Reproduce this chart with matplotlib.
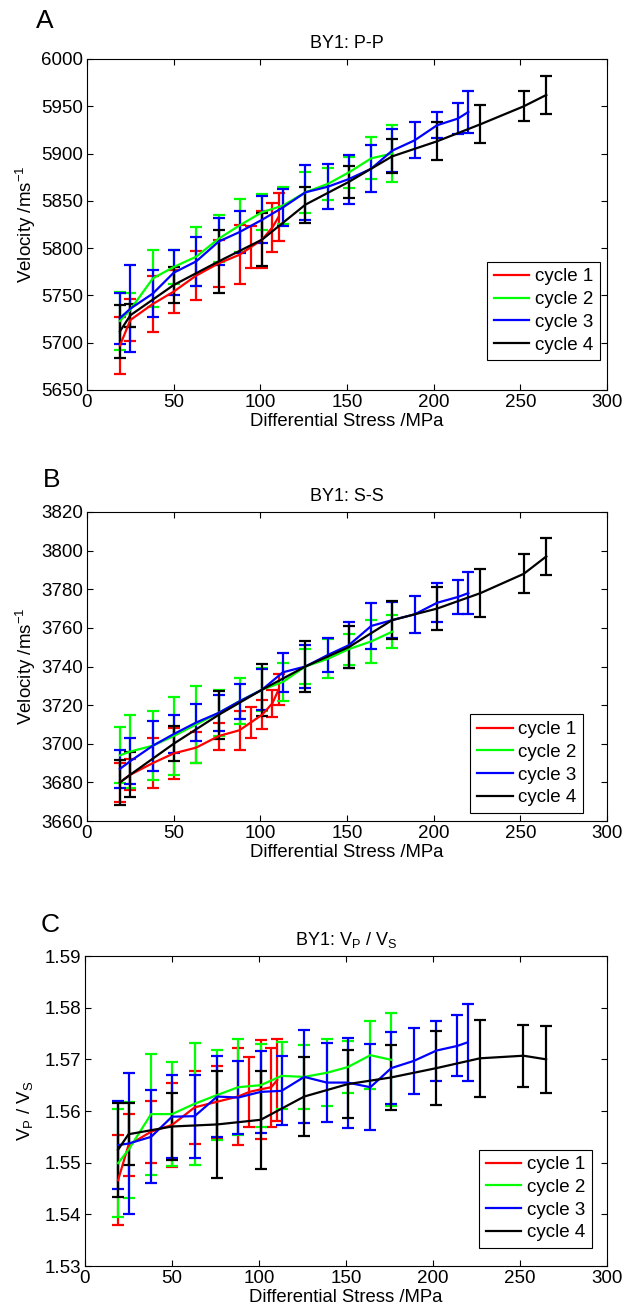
import matplotlib
matplotlib.use("Agg")
import matplotlib.pyplot as plt

plt.rcParams["font.family"] = ["Liberation Sans", "DejaVu Sans"]
plt.rcParams["mathtext.default"] = "regular"
plt.rcParams["font.size"] = 13

# stress steps for each loading cycle (MPa)
stress_c1 = [19, 25, 38, 50, 63, 76, 88, 94.5, 101, 107, 110.5]
stress_c2 = [19, 25, 38, 50, 63, 76, 88, 101, 113, 126, 139, 151, 164, 176]
stress_c3 = [19, 25, 38, 50, 63, 76, 88, 101, 113, 126, 139, 151, 164, 176,
             189, 202, 214, 220]
stress_c4 = [19, 25, 50, 76, 101, 126, 151, 176, 202, 227, 252, 265]

# A: P-wave velocity
vp_c1 = [5697, 5724, 5741, 5754, 5771, 5784, 5793, 5801, 5809, 5822, 5833]
vp_err_c1 = [30, 22, 30, 23, 26, 25, 31, 22, 30, 26, 25]
vp_c2 = [5723, 5735, 5768, 5780, 5791, 5810, 5824, 5838, 5845, 5859, 5868,
         5880, 5895, 5900]
vp_err_c2 = [31, 18, 30, 18, 31, 25, 28, 19, 20, 22, 17, 16, 22, 30]
vp_c3 = [5726, 5736, 5752, 5774, 5786, 5807, 5817, 5830, 5843, 5859, 5865,
         5873, 5884, 5903, 5914, 5930, 5937, 5944]
vp_err_c3 = [27, 46, 25, 24, 26, 25, 22, 25, 20, 29, 24, 26, 25, 23, 19, 14,
             16, 22]
vp_c4 = [5712, 5729, 5761, 5786, 5809, 5846, 5870, 5897, 5913, 5931, 5950, 5962]
vp_err_c4 = [28, 12, 19, 33, 28, 19, 17, 18, 20, 20, 16, 20]

# B: S-wave velocity
vs_c1 = [3680, 3684, 3690, 3695, 3698, 3704, 3707, 3711, 3715, 3721, 3728]
vs_err_c1 = [10, 8, 13, 13, 8, 7, 10, 8, 7.5, 7, 8]
vs_c2 = [3694, 3696, 3699, 3704, 3710, 3716, 3722, 3728, 3732, 3740, 3744,
         3749, 3753, 3758]
vs_err_c2 = [14.5, 19, 18, 20, 20, 12, 12, 11, 10, 9, 10, 8, 11, 8.5]
vs_c3 = [3687, 3691, 3699, 3705, 3711, 3716, 3722, 3728, 3737, 3740, 3746,
         3751, 3761, 3764, 3767, 3773, 3776, 3778]
vs_err_c3 = [10, 12, 13, 10, 9.5, 9.5, 9, 10.5, 10, 11, 9, 12, 12, 9.5, 9.5,
             10, 9, 11]
vs_c4 = [3680, 3684, 3700, 3715, 3728, 3740, 3750, 3764, 3770, 3778, 3788, 3797]
vs_err_c4 = [11.7, 11.6, 9, 12.5, 13.5, 13, 11, 9.7, 11, 12.5, 10, 9.5]

# C: Vp/Vs ratio
ratio_c1 = [1.5466, 1.5534, 1.5560, 1.5573, 1.5607, 1.5618, 1.5628, 1.5637,
            1.5642, 1.5646, 1.5660]
ratio_err_c1 = [0.0087, 0.006, 0.006, 0.0082, 0.007, 0.007, 0.0094, 0.0067,
                0.0096, 0.0076, 0.008]
ratio_c2 = [1.5499, 1.5525, 1.5594, 1.5594, 1.5614, 1.5631, 1.5646, 1.5650,
            1.5668, 1.5666, 1.5674, 1.5685, 1.5708, 1.5699]
ratio_err_c2 = [0.0105, 0.0093, 0.0117, 0.0100, 0.0118, 0.0087, 0.0093, 0.008,
                0.0065, 0.0062, 0.0065, 0.005, 0.0066, 0.009]
ratio_c3 = [1.5534, 1.5537, 1.5550, 1.5589, 1.5590, 1.5628, 1.5626, 1.5637,
            1.5639, 1.5666, 1.5655, 1.5655, 1.5646, 1.5683, 1.5697, 1.5717,
            1.5726, 1.5733]
ratio_err_c3 = [0.0085, 0.0136, 0.009, 0.008, 0.008, 0.0078, 0.0071, 0.008,
                0.0067, 0.009, 0.0076, 0.0087, 0.0083, 0.007, 0.0064, 0.0058,
                0.0059, 0.0074]
ratio_c4 = [1.5525, 1.5555, 1.5570, 1.5574, 1.5583, 1.5628, 1.5652, 1.5665,
            1.5683, 1.5702, 1.5707, 1.5700]
ratio_err_c4 = [0.0091, 0.006, 0.0065, 0.0103, 0.0095, 0.0076, 0.0066, 0.0063,
                0.0072, 0.0075, 0.006, 0.0065]

labels = ["cycle 1", "cycle 2", "cycle 3", "cycle 4"]
colors = ["#ff0000", "#00ff00", "#0000ff", "#000000"]
stresses = [stress_c1, stress_c2, stress_c3, stress_c4]

W, H = 626, 1315
fig = plt.figure(figsize=(W / 100, H / 100), dpi=100)


def px_axes(left, top, right, bottom):
    return fig.add_axes([left / W, 1 - bottom / H, (right - left) / W,
                         (bottom - top) / H])


panels = [
    dict(box=(87, 59, 607, 390), vals=[vp_c1, vp_c2, vp_c3, vp_c4],
         errs=[vp_err_c1, vp_err_c2, vp_err_c3, vp_err_c4],
         ylim=(5650, 6000), yticks=range(5650, 6001, 50),
         title="BY1: P-P", ylabel="Velocity /ms$^{-1}$",
         leg=(0.9865, 0.09), tag="A", tagpos=(36, 28)),
    dict(box=(87, 512, 607, 821), vals=[vs_c1, vs_c2, vs_c3, vs_c4],
         errs=[vs_err_c1, vs_err_c2, vs_err_c3, vs_err_c4],
         ylim=(3660, 3820), yticks=range(3660, 3821, 20),
         title="BY1: S-S", ylabel="Velocity /ms$^{-1}$",
         leg=(0.954, 0.026), tag="B", tagpos=(43, 487)),
    dict(box=(85, 956, 607, 1266), vals=[ratio_c1, ratio_c2, ratio_c3, ratio_c4],
         errs=[ratio_err_c1, ratio_err_c2, ratio_err_c3, ratio_err_c4],
         ylim=(1.53, 1.59), yticks=[1.53, 1.54, 1.55, 1.56, 1.57, 1.58, 1.59],
         title="BY1: V$_P$ / V$_S$", ylabel="V$_P$ / V$_S$",
         leg=(0.971, 0.058), tag="C", tagpos=(41, 932)),
]

for p in panels:
    ax = px_axes(*p["box"])
    handles = []
    for x, y, e, c, lab in zip(stresses, p["vals"], p["errs"], colors, labels):
        h = ax.errorbar(x, y, yerr=e, color=c, lw=1.6, elinewidth=1.6,
                        capsize=4.5, capthick=1.6, label=lab)
        handles.append(h)
    ax.set_xlim(0, 300)
    ax.set_xticks(range(0, 301, 50))
    ax.set_ylim(*p["ylim"])
    ax.set_yticks(list(p["yticks"]))
    if p["tag"] == "C":
        ax.set_yticklabels(["%.2f" % v for v in p["yticks"]])
    ax.tick_params(direction="in", top=True, right=True, length=4, width=0.8,
                   labelsize=13.5, pad=3)
    for s in ax.spines.values():
        s.set_linewidth(0.8)
    ax.set_title(p["title"], fontsize=13, pad=8)
    ax.set_xlabel("Differential Stress /MPa", fontsize=13.3, labelpad=1)
    ax.set_ylabel(p["ylabel"], fontsize=13.5)
    ax.yaxis.set_label_coords(-0.095, 0.5)
    leg = ax.legend([h[0] for h in handles], labels, loc="lower right",
                    bbox_to_anchor=p["leg"], borderaxespad=0, fancybox=False,
                    framealpha=1, edgecolor="black", fontsize=13.5,
                    handlelength=1.9, handletextpad=0.3, labelspacing=0.3,
                    borderpad=0.35)
    leg.get_frame().set_linewidth(0.8)
    fig.text(p["tagpos"][0] / W, 1 - p["tagpos"][1] / H, p["tag"],
             fontsize=19, ha="left", va="baseline")

fig.savefig("out.png", dpi=100)
